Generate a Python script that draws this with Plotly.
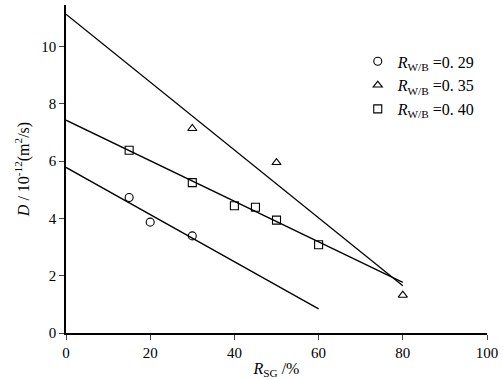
import plotly.graph_objects as go

# measured points
x_029 = [15, 20, 30]
y_029 = [4.73, 3.87, 3.39]
x_035 = [30, 50, 80]
y_035 = [7.14, 5.95, 1.32]
x_040 = [15, 30, 40, 45, 50, 60]
y_040 = [6.38, 5.25, 4.44, 4.39, 3.94, 3.08]

# fitted line endpoints
fit_x_029 = [0, 60]
fit_y_029 = [5.78, 0.84]
fit_x_035 = [0, 80]
fit_y_035 = [11.13, 1.65]
fit_x_040 = [0, 80]
fit_y_040 = [7.43, 1.77]

labels = ["<i>R</i><sub>W/B</sub> =0. 29", "<i>R</i><sub>W/B</sub> =0. 35", "<i>R</i><sub>W/B</sub> =0. 40"]
x_ticks = [0, 20, 40, 60, 80, 100]
y_ticks = [0, 2, 4, 6, 8, 10]

FONT = "Liberation Serif, DejaVu Serif, serif"
fig = go.Figure()

for fx, fy in [(fit_x_029, fit_y_029), (fit_x_035, fit_y_035), (fit_x_040, fit_y_040)]:
    fig.add_trace(go.Scatter(x=fx, y=fy, mode="lines", line=dict(color="black", width=1.3),
                             showlegend=False, hoverinfo="skip"))

for xs, ys, sym, lab in [(x_029, y_029, "circle-open", labels[0]),
                         (x_035, y_035, "triangle-up-open", labels[1]),
                         (x_040, y_040, "square-open", labels[2])]:
    fig.add_trace(go.Scatter(x=xs, y=ys, mode="markers", name=lab,
                             marker=dict(symbol=sym, size=8, color="black", line=dict(width=1.1, color="black"))))

fig.update_layout(
    width=503, height=380,
    margin=dict(l=66, r=14, t=5, b=46),
    plot_bgcolor="white", paper_bgcolor="white",
    font=dict(family=FONT, size=15, color="black"),
    legend=dict(x=0.693, y=0.88, xanchor="left", yanchor="top", bgcolor="rgba(0,0,0,0)",
                font=dict(family=FONT, size=16), itemwidth=30, tracegroupgap=0),
    xaxis=dict(range=[0, 100], tickvals=x_ticks, ticks="outside", ticklen=5, tickwidth=1.2,
               showline=True, linecolor="black", linewidth=1.5, showgrid=False, zeroline=False,
               title=dict(text="<i>R</i><sub>SG</sub> /%", standoff=3, font=dict(size=16))),
    yaxis=dict(range=[0, 11.45], tickvals=y_ticks, ticks="outside", ticklen=5, tickwidth=1.2,
               showline=True, linecolor="black", linewidth=1.5, showgrid=False, zeroline=False,
               title=dict(text="<i>D</i> / 10<sup>-12</sup>(m<sup>2</sup>/s)", standoff=8, font=dict(size=16))),
)

fig.write_html("out.html", config={"displayModeBar": False},
               post_script="document.body.style.margin='0';")
